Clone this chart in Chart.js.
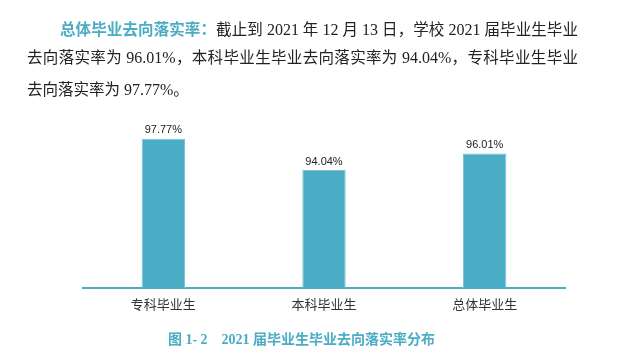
<!DOCTYPE html>
<html>
<head>
<meta charset="utf-8">
<script src="https://cdn.jsdelivr.net/npm/chart.js@4"></script>
<style>
  html, body { margin: 0; padding: 0; background: #fff; }
  #page { position: relative; width: 627px; height: 358px; overflow: hidden; }
  .line {
    position: absolute; left: 27px; width: 551px;
    font-family: "Liberation Serif", "Noto Sans CJK SC", serif;
    font-size: 15.5px; color: #222; white-space: nowrap;
    text-align: justify; text-align-last: justify; line-height: 20px;
  }
  .line.last { text-align-last: left; }
  .n { font-size: 16px; }
  .lead { color: #4BACC6; font-weight: bold; font-family: "Noto Sans CJK SC", sans-serif; }
  #cap {
    position: absolute; left: 0; width: 627px; top: 328px; text-align: center;
    font-family: "Liberation Serif", "Noto Sans CJK SC", serif; font-weight: bold;
    font-size: 14px; color: #4BACC6; padding-right: 24px; box-sizing: border-box;
  }
  #wrap { position: absolute; left: 0; top: 0; width: 627px; height: 358px; }
</style>
</head>
<body>
<div id="page">
  <div id="wrap"><canvas id="chart"></canvas></div>
  <div class="line" style="top:18px; left:60px; width:518px;"><span class="lead">总体毕业去向落实率：</span>截止到 <span class="n">2021</span> 年 <span class="n">12</span> 月 <span class="n">13</span> 日，学校 <span class="n">2021</span> 届毕业生毕业</div>
  <div class="line" style="top:48px;">去向落实率为 <span class="n">96.01%</span>，本科毕业生毕业去向落实率为 <span class="n">94.04%</span>，专科毕业生毕业</div>
  <div class="line last" style="top:80px;">去向落实率为 <span class="n">97.77%</span>。</div>
  <div id="cap">图 1- 2&nbsp;&nbsp;&nbsp;&nbsp;2021 届毕业生毕业去向落实率分布</div>
</div>
<script>
// 2021 届毕业生毕业去向落实率
const categories = ['专科毕业生', '本科毕业生', '总体毕业生'];
const rates = [97.77, 94.04, 96.01];

const barColor = '#4BACC6';

// draw the value above each bar
const valueLabels = {
  id: 'valueLabels',
  afterDatasetsDraw(chart) {
    const {ctx} = chart;
    const meta = chart.getDatasetMeta(0);
    ctx.save();
    ctx.font = '11px "Liberation Sans", Arial, sans-serif';
    ctx.fillStyle = '#222';
    ctx.textAlign = 'center';
    ctx.textBaseline = 'bottom';
    meta.data.forEach((bar, i) => {
      ctx.fillText(rates[i].toFixed(2) + '%', bar.x, bar.y - 3);
    });
    ctx.restore();
  },
};

new Chart(document.getElementById('chart'), {
  type: 'bar',
  data: {
    labels: categories,
    datasets: [{
      data: rates,
      backgroundColor: barColor,
      borderColor: '#7cc3d6',
      borderWidth: 1,
      barPercentage: 0.27,
      categoryPercentage: 1,
    }],
  },
  options: {
    responsive: true,
    maintainAspectRatio: false,
    animation: false,
    events: [],
    layout: {padding: {left: 83, right: 62, top: 120, bottom: 30}},
    plugins: {legend: {display: false}, tooltip: {enabled: false}},
    scales: {
      x: {
        grid: {display: false, drawTicks: false},
        border: {display: true, color: barColor, width: 2},
        ticks: {
          padding: 8,
          color: '#333',
          font: {family: '"Noto Sans CJK SC", sans-serif', size: 13},
        },
        afterFit(scale) { scale.height = 40; },
      },
      y: {display: false, min: 80, max: 100},
    },
  },
  plugins: [valueLabels],
});
</script>
</body>
</html>
